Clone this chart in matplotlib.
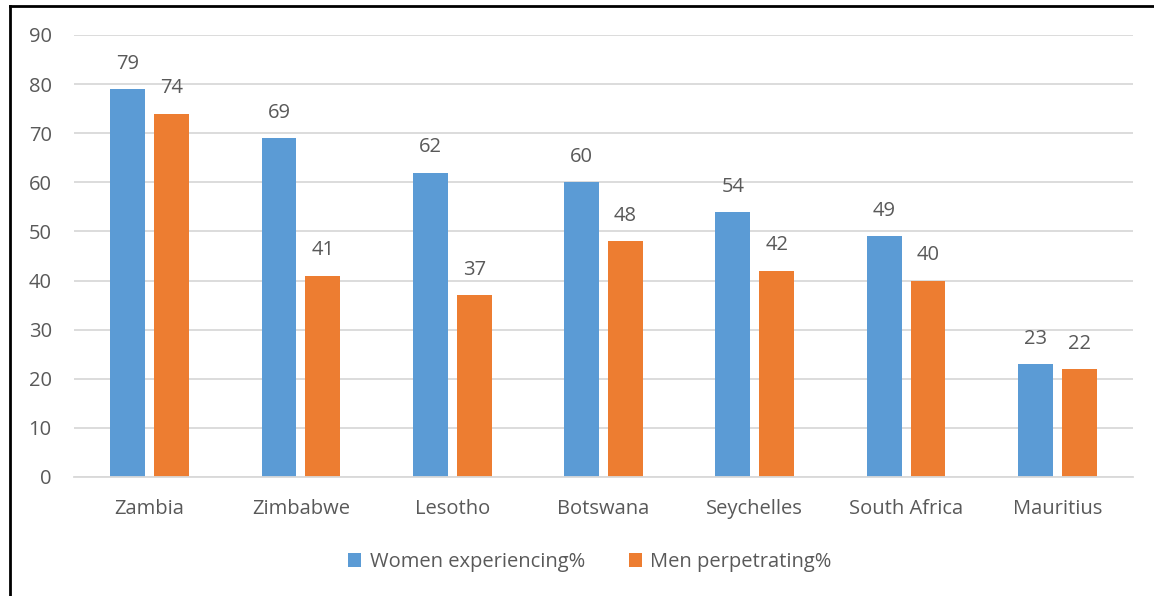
import matplotlib.pyplot as plt
from matplotlib.lines import Line2D
import numpy as np

countries = ['Zambia', 'Zimbabwe', 'Lesotho', 'Botswana', 'Seychelles', 'South Africa', 'Mauritius']
women = [79, 69, 62, 60, 54, 49, 23]
men = [74, 41, 37, 48, 42, 40, 22]

blue = '#5B9BD5'
orange = '#ED7D31'
txt = '#595959'

plt.rcParams['font.family'] = ['Open Sans', 'DejaVu Sans']
fs = 14.5

W, H = 1154, 596
fig = plt.figure(figsize=(W / 100, H / 100), dpi=100)
ax = fig.add_axes([74 / W, 1 - 477 / H, (1133 - 74) / W, (477 - 35) / H])

x = np.arange(len(countries))
bw = 0.23
off = 0.145
b1 = ax.bar(x - off, women, bw, color=blue, label='Women experiencing%', zorder=2)
b2 = ax.bar(x + off, men, bw, color=orange, label='Men perpetrating%', zorder=2)

for bars in (b1, b2):
    ax.bar_label(bars, padding=11, fontsize=fs, color=txt)

ax.set_xlim(-0.5, len(countries) - 0.5)
ax.set_ylim(0, 90)
ax.set_yticks(range(0, 91, 10))
ax.yaxis.grid(True, color='#d9d9d9', linewidth=1.3, zorder=0)
ax.set_xticks(x)
ax.set_xticklabels(countries)
ax.tick_params(axis='both', length=0, labelsize=fs, colors=txt)
ax.tick_params(axis='x', pad=16)
ax.tick_params(axis='y', pad=16)
for s in ['top', 'right', 'left']:
    ax.spines[s].set_visible(False)
ax.spines['bottom'].set_color('#d9d9d9')
ax.spines['bottom'].set_linewidth(1.3)

leg = fig.legend(loc='center', bbox_to_anchor=(590 / W, 1 - 562 / H), ncol=2,
                 frameon=False, fontsize=fs, handlelength=0.65, handleheight=0.65,
                 handletextpad=0.4, columnspacing=2.2)
for t in leg.get_texts():
    t.set_color(txt)

# outer frame edges
fig.add_artist(Line2D([10 / W, 10 / W], [0, 1 - 6 / H], color='black', lw=2, transform=fig.transFigure))
fig.add_artist(Line2D([10 / W, 1], [1 - 6 / H, 1 - 6 / H], color='black', lw=2, transform=fig.transFigure))

fig.savefig('out.png', dpi=100)
